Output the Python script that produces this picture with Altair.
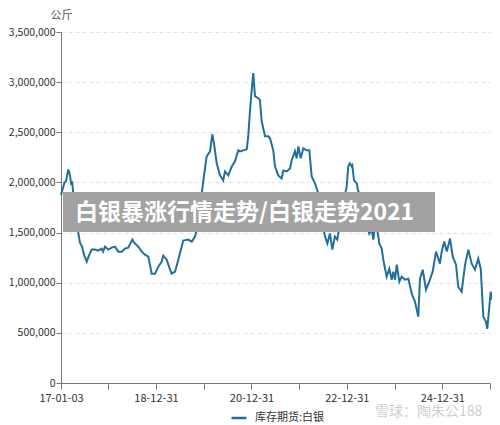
import altair as alt
import pandas as pd

SERIES = "库存期货:白银"
TITLE = "白银暴涨行情走势/白银走势2021"
WATERMARK = "雪球：陶朱公188"
Y_UNIT = "公斤"

dates = [
    "2017-01-03", "2017-01-30", "2017-02-10", "2017-02-28", "2017-03-13", "2017-03-21", "2017-03-30",
    "2017-04-07", "2017-04-24", "2017-05-15", "2017-05-28", "2017-06-13", "2017-06-28", "2017-07-19",
    "2017-08-05", "2017-08-26", "2017-09-20", "2017-10-13", "2017-11-11", "2017-11-21", "2017-12-06",
    "2017-12-31", "2018-01-26", "2018-02-20", "2018-03-18", "2018-04-13", "2018-05-08", "2018-06-02",
    "2018-07-03", "2018-07-23", "2018-08-18", "2018-09-13", "2018-10-08", "2018-11-02", "2018-11-15",
    "2018-11-28", "2018-12-24", "2019-01-18", "2019-02-13", "2019-02-25", "2019-03-23", "2019-04-10",
    "2019-04-30", "2019-05-26", "2019-06-20", "2019-07-28", "2019-09-04", "2019-10-01", "2019-10-26",
    "2019-11-20", "2019-12-03", "2019-12-16", "2020-01-03", "2020-01-23", "2020-02-18", "2020-03-06",
    "2020-03-19", "2020-04-09", "2020-05-04", "2020-05-29", "2020-06-11", "2020-07-07", "2020-08-02",
    "2020-08-27", "2020-09-21", "2020-10-04", "2020-10-30", "2020-11-25", "2020-12-07", "2020-12-20",
    "2021-01-02", "2021-01-14", "2021-01-27", "2021-02-21", "2021-03-06", "2021-03-19", "2021-04-14",
    "2021-05-09", "2021-05-22", "2021-06-16", "2021-06-29", "2021-07-24", "2021-08-19", "2021-09-01",
    "2021-09-27", "2021-10-22", "2021-11-04", "2021-11-29", "2021-12-12", "2021-12-25", "2022-01-12",
    "2022-02-01", "2022-02-27", "2022-03-19", "2022-04-06", "2022-05-01", "2022-05-27", "2022-06-09",
    "2022-06-22", "2022-07-17", "2022-08-04", "2022-08-24", "2022-09-11", "2022-10-01", "2022-10-19",
    "2022-11-09", "2022-12-02", "2022-12-30", "2023-01-11", "2023-01-24", "2023-02-06", "2023-02-11",
    "2023-02-24", "2023-03-17", "2023-03-27", "2023-04-11", "2023-05-06", "2023-05-27", "2023-06-21",
    "2023-07-09", "2023-07-22", "2023-08-04", "2023-08-21", "2023-09-06", "2023-09-24", "2023-10-06",
    "2023-11-01", "2023-11-21", "2023-12-10", "2023-12-22", "2024-01-04", "2024-01-17", "2024-02-06",
    "2024-02-24", "2024-03-20", "2024-04-15", "2024-05-11", "2024-06-05", "2024-06-30", "2024-07-13",
    "2024-08-03", "2024-08-28", "2024-09-22", "2024-10-18", "2024-11-13", "2024-12-13", "2024-12-26",
    "2025-01-15", "2025-02-03", "2025-02-28", "2025-03-21", "2025-04-15", "2025-05-02", "2025-05-28",
    "2025-06-23", "2025-07-18", "2025-08-13", "2025-09-07", "2025-10-02", "2025-10-21", "2025-11-10",
    "2025-11-30", "2025-12-10", "2025-12-26", "2026-01-05", "2026-01-13",
]

values = [
    1875000, 2000000, 2010000, 2130000, 2070000, 1990000, 2000000,
    1890000, 1670000, 1500000, 1400000, 1360000, 1280000, 1210000,
    1270000, 1330000, 1330000, 1320000, 1340000, 1310000, 1360000,
    1330000, 1350000, 1360000, 1310000, 1310000, 1340000, 1350000,
    1430000, 1390000, 1360000, 1310000, 1280000, 1260000, 1180000,
    1090000, 1090000, 1160000, 1210000, 1270000, 1230000, 1160000,
    1090000, 1110000, 1230000, 1420000, 1430000, 1410000, 1460000,
    1590000, 1750000, 1890000, 2070000, 2260000, 2310000, 2480000,
    2390000, 2190000, 2070000, 2020000, 2110000, 2070000, 2160000,
    2210000, 2320000, 2310000, 2320000, 2330000, 2470000, 2720000,
    2920000, 3090000, 2860000, 2840000, 2820000, 2610000, 2460000,
    2460000, 2440000, 2320000, 2160000, 2070000, 2040000, 2120000,
    2110000, 2140000, 2220000, 2310000, 2240000, 2360000, 2240000,
    2340000, 2320000, 2320000, 2060000, 1990000, 1890000, 1780000,
    1630000, 1460000, 1390000, 1490000, 1330000, 1460000, 1430000,
    1590000, 1780000, 1960000, 2160000, 2190000, 2160000, 2170000,
    2020000, 1990000, 1920000, 1870000, 1870000, 1610000, 1490000,
    1530000, 1430000, 1580000, 1530000, 1390000, 1340000, 1230000,
    1060000, 1140000, 1030000, 1110000, 1030000, 1180000, 1010000,
    1060000, 1030000, 1040000, 890000, 810000, 660000, 1040000,
    1130000, 930000, 1010000, 1110000, 1310000, 1190000, 1310000,
    1410000, 1310000, 1440000, 1260000, 1180000, 960000, 910000,
    1180000, 1330000, 1190000, 1130000, 1240000, 1140000, 660000,
    610000, 540000, 760000, 910000, 830000,
]

# x tick positions (yearly) and which ones carry a label
tick_dates = [(2017, 1, 3), (2017, 12, 29), (2018, 12, 31), (2019, 12, 31), (2020, 12, 31),
              (2021, 12, 31), (2022, 12, 31), (2023, 12, 31), (2024, 12, 31), (2025, 12, 31)]
labelled = ["17-01-03", "18-12-31", "20-12-31", "22-12-31", "24-12-31"]
y_ticks = [0, 500000, 1000000, 1500000, 2000000, 2500000, 3000000, 3500000]

LINE_COLOR = "#22709a"
FONT = "Noto Sans CJK SC"

df = pd.DataFrame({"date": dates, "value": values, "series": SERIES})

def dt(t):
    return alt.DateTime(year=t[0], month=t[1], date=t[2], utc=True)

label_list = "[" + ",".join("'%s'" % s for s in labelled) + "]"
label_expr = ("indexof(%s, utcFormat(datum.value, '%%y-%%m-%%d')) >= 0 ? "
              "utcFormat(datum.value, '%%y-%%m-%%d') : ''") % label_list

line = alt.Chart(df).mark_line(strokeWidth=2, clip=False).encode(
    x=alt.X(
        "date:T",
        scale=alt.Scale(type="utc", domain=[dt(tick_dates[0]), dt(tick_dates[-1])]),
        axis=alt.Axis(
            values=[dt(t) for t in tick_dates],
            labelExpr=label_expr,
            title=None,
            grid=False,
            tickSize=6,
            labelPadding=3,
            labelFontSize=11,
            labelColor="#333333",
            domainColor="#777777",
            tickColor="#777777",
            labelOverlap=False,
            labelFlush=False,
        ),
    ),
    y=alt.Y(
        "value:Q",
        scale=alt.Scale(domain=[0, 3500000], nice=False),
        axis=alt.Axis(
            values=y_ticks,
            format=",d",
            title=Y_UNIT,
            titleAngle=0,
            titleX=0,
            titleY=-17,
            titleAlign="center",
            titleBaseline="middle",
            titleFontSize=11,
            titleFontWeight="normal",
            titleColor="#555555",
            tickSize=5,
            labelPadding=1,
            labelFontSize=10.5,
            labelColor="#333333",
            domainColor="#777777",
            tickColor="#777777",
            gridColor="#e2e2e2",
            gridDash=[4, 3],
        ),
    ),
    color=alt.Color(
        "series:N",
        scale=alt.Scale(range=[LINE_COLOR]),
        legend=alt.Legend(
            title=None,
            orient="none",
            legendX=169,
            legendY=377,
            symbolType="stroke",
            symbolSize=225,
            symbolStrokeWidth=2.5,
            labelFontSize=11,
            labelColor="#333333",
            labelOffset=7,
        ),
    ),
)

title_df = pd.DataFrame({"t": [TITLE]})
banner = alt.Chart(title_df).mark_rect(color="#a2a2a2").encode(
    x=alt.value(2), x2=alt.value(374), y=alt.value(160), y2=alt.value(200)
)
banner_text = alt.Chart(title_df).mark_text(
    align="left", baseline="middle", fontSize=23, fontWeight="bold", color="white", font=FONT
).encode(x=alt.value(14), y=alt.value(181), text="t:N")

wm_df = pd.DataFrame({"t": [WATERMARK]})
watermark = alt.Chart(wm_df).mark_text(
    align="left", baseline="middle", fontSize=14, color="#cfcfcf", font=FONT
).encode(x=alt.value(314), y=alt.value(380), text="t:N")

chart = alt.layer(line, banner, banner_text, watermark).properties(
    width=429,
    height=351,
    autosize=alt.AutoSizeParams(type="none"),
    padding={"left": 53, "top": 24, "right": 2, "bottom": 42},
).configure(font=FONT).configure_view(stroke=None)

chart.save("out.html", embed_options={"renderer": "svg", "actions": False})
